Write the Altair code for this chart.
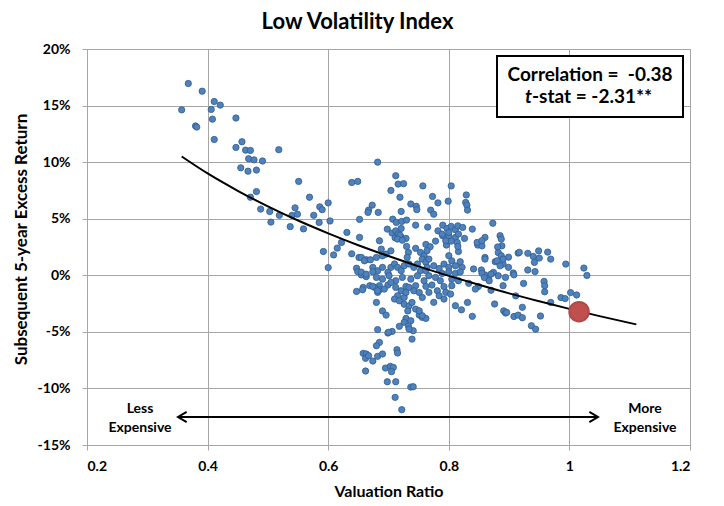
import altair as alt
import pandas as pd

# ---- scatter data (valuation ratio, subsequent 5-yr excess return in %) ----
val_ratio = [
    0.368, 0.391, 0.357, 0.411, 0.421, 0.406, 0.408, 0.380, 0.382, 0.447,
    0.411, 0.457, 0.447, 0.463, 0.471, 0.518, 0.468, 0.477, 0.491, 0.455,
    0.467, 0.481, 0.551, 0.481, 0.471, 0.569, 0.488, 0.503, 0.519, 0.505,
    0.545, 0.540, 0.549, 0.576, 0.586, 0.590, 0.600, 0.585, 0.603, 0.537,
    0.559, 0.592, 0.609, 0.615, 0.600,
    # upper middle
    0.682, 0.639, 0.649, 0.712, 0.716, 0.725, 0.704, 0.757, 0.804, 0.719,
    0.773, 0.782, 0.799, 0.829, 0.828, 0.830, 0.831, 0.673, 0.667, 0.666,
    0.683, 0.737, 0.746, 0.747, 0.770, 0.775, 0.721, 0.652, 0.707, 0.713,
    0.722, 0.730, 0.698, 0.706, 0.712, 0.721, 0.745, 0.765, 0.711, 0.720,
    0.729, 0.716, 0.782, 0.790, 0.797, 0.804, 0.811, 0.815, 0.823, 0.839,
    0.790, 0.800, 0.811, 0.826, 0.796, 0.804, 0.685, 0.652, 0.631, 0.762,
    0.769, 0.778, 0.688, 0.696, 0.704, 0.730, 0.733, 0.639, 0.651, 0.655,
    0.663, 0.873, 0.860, 0.848, 0.855, 0.885, 0.887, 0.888, 0.881, 0.882,
    0.887, 0.899, 0.915, 0.860, 0.877, 0.890, 0.899,
    # core
    0.719, 0.715, 0.723, 0.622, 0.660, 0.670, 0.680, 0.690, 0.731, 0.745,
    0.753, 0.759, 0.764, 0.647, 0.649, 0.655, 0.663, 0.674, 0.682, 0.690,
    0.699, 0.704, 0.710, 0.715, 0.721, 0.726, 0.734, 0.742, 0.748, 0.756,
    0.762, 0.753, 0.762, 0.680, 0.690, 0.701, 0.712, 0.723, 0.737, 0.748,
    0.759, 0.685, 0.699, 0.712, 0.729, 0.745, 0.762, 0.669, 0.658,
    0.789, 0.800, 0.816, 0.795, 0.814, 0.816, 0.815, 0.767, 0.764, 0.775,
    0.800, 0.805, 0.792, 0.800, 0.811, 0.822, 0.819, 0.784, 0.789, 0.800,
    0.811, 0.819, 0.778, 0.767, 0.786, 0.805, 0.816, 0.772, 0.792, 0.833,
    0.841, 0.854, 0.860, 0.866, 0.874, 0.882, 0.894, 0.907, 0.890, 0.847,
    0.855, 0.890, 0.880, 0.885,
    # right side
    0.860, 0.917, 0.931, 0.940, 0.949, 0.950, 0.964, 0.969, 0.942, 0.931,
    0.943, 0.994, 1.024, 1.029, 0.855, 0.859, 0.870, 0.867, 0.908, 0.849,
    0.870, 0.924, 0.958, 0.959, 0.959, 0.911, 0.986, 0.993, 1.002, 1.012,
    0.969, 0.876, 0.922, 0.891, 0.894, 0.908, 0.915, 0.922, 0.952, 0.937,
    0.944,
    # lower cluster
    0.655, 0.663, 0.674, 0.677, 0.685, 0.682, 0.693, 0.647, 0.657, 0.704,
    0.721, 0.715, 0.710, 0.718, 0.726, 0.729, 0.734, 0.742, 0.751, 0.726,
    0.734, 0.732, 0.739, 0.680, 0.690, 0.696, 0.745, 0.751, 0.756, 0.762,
    0.729, 0.737, 0.726, 0.733, 0.741, 0.718, 0.734, 0.739, 0.682, 0.699,
    0.706, 0.685, 0.680, 0.714, 0.715, 0.658, 0.663, 0.662, 0.667, 0.674,
    0.682, 0.690, 0.695, 0.703, 0.708, 0.705, 0.662, 0.698, 0.712, 0.737,
    0.741, 0.711, 0.722, 0.811, 0.821, 0.831, 0.839, 0.844, 0.781, 0.784,
    0.792, 0.775, 0.795, 0.803, 0.805, 0.767, 0.756, 0.896, 0.756, 0.751,
    0.674, 0.682, 0.700,
]
excess_ret = [
    16.95, 16.27, 14.62, 15.36, 15.04, 14.66, 13.8, 13.2, 13.1, 13.9,
    12.0, 11.8, 11.3, 11.06, 11.03, 11.1, 10.3, 10.2, 10.1, 9.5,
    9.2, 9.3, 8.3, 7.4, 6.9, 6.9, 5.85, 5.64, 5.3, 4.7,
    5.96, 5.3, 5.4, 5.3, 6.05, 5.8, 6.4, 4.67, 4.8, 4.3,
    4.1, 2.1, 1.8, 2.4, 0.68,
    # upper middle
    10.0, 8.2, 8.3, 8.8, 8.06, 8.1, 7.5, 7.9, 7.9, 6.9,
    6.97, 6.4, 6.55, 7.1, 6.44, 6.2, 5.76, 6.2, 5.76, 5.56,
    5.56, 6.3, 6.1, 5.8, 5.76, 5.4, 5.64, 4.94, 4.96, 4.67,
    4.76, 4.88, 4.08, 3.73, 3.93, 4.14, 4.43, 4.26, 3.31, 3.44,
    3.26, 3.67, 3.93, 4.43, 4.14, 4.32, 4.02, 4.37, 4.23, 4.08,
    3.49, 3.49, 3.35, 3.26, 2.67, 3.02, 3.05, 3.35, 3.79, 2.73,
    2.52, 3.02, 2.31, 1.87, 2.16, 2.55, 2.02, 1.9, 1.58, 1.58,
    1.37, 4.6, 3.35, 2.67, 2.6, 3.5, 3.2, 2.6, 2.5, 2.0,
    1.73, 1.6, 1.96, 1.58, 1.2, 0.99, 0.7,
    # core
    3.55, 3.2, 3.1, 2.9, 1.28, 1.37, 1.58, 1.72, 1.58, 2.38,
    2.02, 1.73, 2.17, 0.62, 0.32, 0.03, -0.12, 0.7, 0.4, 0.7,
    0.26, 0.7, 1.0, 0.7, 0.4, 0.84, 1.0, 0.7, 1.0, 1.43,
    1.14, 0.4, 0.4, -0.19, -0.34, -0.04, -0.48, -0.19, -0.34, -0.04,
    -0.48, -0.92, -0.86, -1.07, -0.98, -0.92, -0.98, -0.92, -1.07,
    3.64, 3.79, 3.64, 3.05, 2.9, 2.1, 2.55, 1.43, 0.7, 0.84,
    1.73, 1.28, 0.99, 0.7, 0.84, 0.7, 1.2, 0.6, 0.16, 0.3,
    0.16, 0.3, -0.19, -0.04, -0.48, -0.34, -0.48, -0.86, -1.0, -0.71,
    0.56, 0.47, 0.03, -0.34, 0.26, -0.04, -0.19, 0.2, -0.92, 2.9,
    3.05, 1.43, 1.28, 0.84,
    # right side
    1.43, 2.03, 1.94, 1.67, 2.16, 1.52, 2.05, 1.43, 1.14, 0.47,
    0.33, 0.99, 0.64, -0.01, 0.18, -0.2, 0.1, -0.49, 0.04, -0.99,
    -1.32, -0.72, -0.54, -0.92, -1.46, -1.82, -1.97, -2.06, -1.53, -1.74,
    -2.4, -2.54, -2.83, -3.14, -3.34, -3.64, -3.52, -3.75, -3.6, -4.46,
    -4.76,
    # lower cluster
    0.28, 0.1, 0.31, -1.07, -1.28, -1.51, -1.22, -1.43, -1.28, -0.63,
    -1.37, -1.81, -2.1, -2.25, -1.96, -1.52, -1.07, -1.37, -1.52, -2.56,
    -2.71, -3.15, -2.4, -2.4, -3.15, -3.52, -2.99, -3.52, -3.72, -3.81,
    -3.81, -4.02, -4.16, -4.46, -4.9, -4.51, -4.75, -5.64, -4.8, -5.1,
    -4.96, -5.93, -6.23, -6.58, -6.87, -6.9, -6.96, -7.34, -7.11, -7.58,
    -7.16, -6.96, -8.2, -8.05, -8.14, -8.52, -8.46, -9.41, -9.41, -9.88,
    -9.85, -10.79, -11.88, -2.69, -3.05, -2.4, -3.63, -1.22, -1.37, -1.81,
    -2.1, -2.39, -1.51, -1.66, -0.92, -1.51, -1.96, -3.28, -3.57, -3.14,
    -0.98, -1.37, -5.04,
]

# ---- fitted trend line ----
fit_x = [0.357, 0.40, 0.45, 0.50, 0.55, 0.60, 0.65, 0.70, 0.75, 0.80,
         0.85, 0.90, 0.95, 1.00, 1.05, 1.111]
fit_y = [10.5, 9.0, 7.47, 6.09, 4.84, 3.71, 2.66, 1.70, 0.79, -0.05,
         -0.84, -1.60, -2.30, -2.97, -3.61, -4.34]

# ---- current point ----
current_x = [1.016]
current_y = [-3.22]

x_ticks = [0.2, 0.4, 0.6, 0.8, 1.0, 1.2]
y_ticks = [-15, -10, -5, 0, 5, 10, 15, 20]

FONT = "Lato"
W, H = 603, 396

n = min(len(val_ratio), len(excess_ret))
pts = pd.DataFrame({"v": val_ratio[:n], "r": excess_ret[:n]})
fit = pd.DataFrame({"v": fit_x, "r": fit_y})
cur = pd.DataFrame({"v": current_x, "r": current_y})

xscale = alt.Scale(domain=[0.2, 1.2], nice=False, zero=False)
yscale = alt.Scale(domain=[-15, 20], nice=False, zero=False)

xaxis = alt.Axis(values=x_ticks, format="~g", title="Valuation Ratio",
                 labelFont=FONT, labelFontSize=14, labelFontWeight="bold",
                 labelColor="black", labelPadding=9,
                 titleFont=FONT, titleFontSize=16, titleFontWeight="bold",
                 titleColor="black", titleX=W / 2, titleY=46,
                 titleBaseline="middle",
                 grid=True, gridColor="#A6A6A6", domainColor="#A6A6A6",
                 tickColor="#A6A6A6", tickSize=5)
yaxis = alt.Axis(values=y_ticks, labelExpr="datum.value + '%'",
                 title="Subsequent 5-year Excess Return",
                 labelFont=FONT, labelFontSize=14, labelFontWeight="bold",
                 labelColor="black", labelPadding=12,
                 titleFont=FONT, titleFontSize=17, titleFontWeight="bold",
                 titleColor="black", titleX=-66, titleY=H / 2 - 8,
                 titleAngle=-90, titleBaseline="middle",
                 grid=True, gridColor="#A6A6A6", domainColor="#A6A6A6",
                 tickColor="#A6A6A6", tickSize=5)

points = alt.Chart(pts).mark_point(
    shape="circle", filled=True, fill="#4F81BD", stroke="#2F5D8E",
    strokeWidth=0.8, size=40, opacity=1
).encode(
    x=alt.X("v:Q", scale=xscale, axis=xaxis),
    y=alt.Y("r:Q", scale=yscale, axis=yaxis),
)

trend = alt.Chart(fit).mark_line(color="black", strokeWidth=2,
                                 interpolate="monotone").encode(
    x=alt.X("v:Q", scale=xscale), y=alt.Y("r:Q", scale=yscale))

current = alt.Chart(cur).mark_point(
    shape="circle", filled=True, fill="#C0504D", stroke="#B04A47",
    size=380, opacity=1).encode(
    x=alt.X("v:Q", scale=xscale), y=alt.Y("r:Q", scale=yscale))

one = pd.DataFrame({"k": [0]})

# double-headed arrow
arrow_y = 368
arrow_l, arrow_r = 91, 511
arrow_line = alt.Chart(one).mark_rule(color="black", strokeWidth=2).encode(
    x=alt.value(arrow_l), x2=alt.value(arrow_r), y=alt.value(arrow_y))
head_l = alt.Chart(one).mark_point(
    shape="M 1 -0.6 L 0 0 L 1 0.6", filled=False, stroke="black",
    strokeWidth=2, size=300, opacity=1).encode(
    x=alt.value(arrow_l), y=alt.value(arrow_y))
head_r = alt.Chart(one).mark_point(
    shape="M -1 -0.6 L 0 0 L -1 0.6", filled=False, stroke="black",
    strokeWidth=2, size=300, opacity=1).encode(
    x=alt.value(arrow_r), y=alt.value(arrow_y))

less_lbl = alt.Chart(pd.DataFrame({"t": [["Less", "Expensive"]]})).mark_text(
    font=FONT, fontSize=14, fontWeight="bold", color="black",
    align="center", baseline="middle", lineHeight=19).encode(
    text="t:N", x=alt.value(53), y=alt.value(360))
more_lbl = alt.Chart(pd.DataFrame({"t": [["More", "Expensive"]]})).mark_text(
    font=FONT, fontSize=14, fontWeight="bold", color="black",
    align="center", baseline="middle", lineHeight=19).encode(
    text="t:N", x=alt.value(558), y=alt.value(360))

# statistics box
box = alt.Chart(one).mark_rect(fill="white", stroke="black",
                               strokeWidth=2).encode(
    x=alt.value(410), x2=alt.value(596), y=alt.value(7), y2=alt.value(68))
line1 = alt.Chart(pd.DataFrame({"t": ["Correlation =\u00a0 -0.38"]})).mark_text(
    font=FONT, fontSize=19, fontWeight="bold", color="black",
    align="center", baseline="middle").encode(
    text="t:N", x=alt.value(503), y=alt.value(26))
line2a = alt.Chart(pd.DataFrame({"t": ["t"]})).mark_text(
    font=FONT, fontSize=19, fontWeight="bold", fontStyle="italic",
    color="black", align="right", baseline="middle").encode(
    text="t:N", x=alt.value(445), y=alt.value(48))
line2b = alt.Chart(pd.DataFrame({"t": ["-stat = -2.31**"]})).mark_text(
    font=FONT, fontSize=19, fontWeight="bold", color="black",
    align="left", baseline="middle").encode(
    text="t:N", x=alt.value(445), y=alt.value(48))

chart = alt.layer(
    points, trend, current, arrow_line, head_l, head_r, less_lbl, more_lbl,
    box, line1, line2a, line2b
).properties(
    width=W, height=H,
    title=alt.TitleParams("Low Volatility Index", font=FONT, fontSize=22,
                          fontWeight="bold", color="black", anchor="middle",
                          frame="group", dx=-31, dy=12, offset=20),
    autosize=alt.AutoSizeParams(type="none"),
    padding={"left": 79, "top": 41, "right": 26, "bottom": 53},
).configure_view(stroke="#A6A6A6", strokeWidth=1)

chart.save("out.html", embed_options={"renderer": "svg", "actions": False})
